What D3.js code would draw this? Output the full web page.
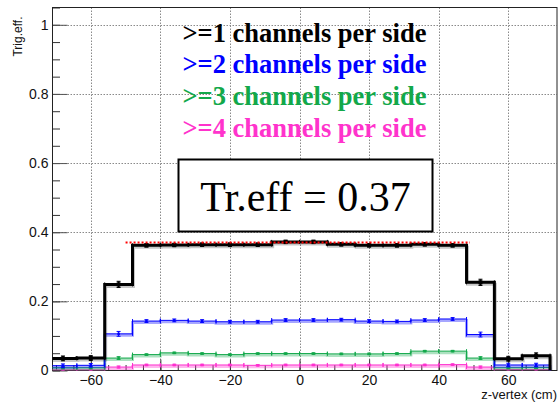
<!DOCTYPE html>
<html>
<head>
<meta charset="utf-8">
<script src="https://cdn.jsdelivr.net/npm/d3@7/dist/d3.min.js"></script>
<style>
  html, body { margin: 0; padding: 0; background: #fff; }
  svg { display: block; }
</style>
</head>
<body>
<svg id="chart" width="559" height="406"></svg>
<script>
// z-vertex bin centres (8 cm bins) and bin half width
const binCenters = [-68, -60, -52, -44, -36, -28, -20, -12, -4, 4, 12, 20, 28, 36, 44, 52, 60, 68];
const binHalfWidth = 4;

// trigger efficiency per bin for each multiplicity requirement
const eff1 = [0.035, 0.036, 0.249, 0.362, 0.363, 0.364, 0.364, 0.364, 0.372, 0.372, 0.365, 0.362, 0.362, 0.365, 0.362, 0.255, 0.034, 0.043];
const eff2 = [0.014, 0.015, 0.106, 0.143, 0.145, 0.143, 0.141, 0.141, 0.146, 0.146, 0.147, 0.143, 0.142, 0.146, 0.149, 0.104, 0.016, 0.016];
const eff3 = [0.008, 0.008, 0.036, 0.046, 0.051, 0.049, 0.046, 0.049, 0.049, 0.049, 0.048, 0.048, 0.049, 0.056, 0.056, 0.036, 0.008, 0.009];
const eff4 = [0.002, 0.002, 0.010, 0.016, 0.016, 0.016, 0.016, 0.015, 0.016, 0.016, 0.016, 0.016, 0.016, 0.016, 0.017, 0.010, 0.003, 0.003];

// statistical errors per bin
const err1 = [0.007, 0.007, 0.009, 0.005, 0.005, 0.005, 0.005, 0.005, 0.005, 0.005, 0.005, 0.005, 0.005, 0.005, 0.005, 0.009, 0.007, 0.008];
const err2 = [0.005, 0.005, 0.007, 0.004, 0.004, 0.004, 0.004, 0.004, 0.004, 0.004, 0.004, 0.004, 0.004, 0.004, 0.004, 0.007, 0.005, 0.005];
const err3 = [0.003, 0.003, 0.004, 0.002, 0.002, 0.002, 0.002, 0.002, 0.002, 0.002, 0.002, 0.002, 0.002, 0.002, 0.002, 0.004, 0.003, 0.003];
const err4 = [0.002, 0.002, 0.003, 0.002, 0.002, 0.002, 0.002, 0.002, 0.002, 0.002, 0.002, 0.002, 0.002, 0.002, 0.002, 0.003, 0.002, 0.002];

const seriesLabels = [">=1 channels per side", ">=2 channels per side", ">=3 channels per side", ">=4 channels per side"];
const seriesColors = ["#000000", "#0000ff", "#12a84a", "#ff2fcf"];
const legendColors = ["#000000", "#0000ff", "#12a84a", "#ff33cc"];

// constant fit over the plateau
const fitValue = 0.37;
const fitRange = [-50, 49];

const xTicks = [-60, -40, -20, 0, 20, 40, 60];
const yTicks = [0, 0.2, 0.4, 0.6, 0.8, 1];
const xTitle = "z-vertex (cm)";
const yTitle = "Trig.eff.";

const L = 52.5, R = 557, T = 7.5, B = 370.5;
const svg = d3.select("#chart");
const SANS = "'Liberation Sans', Arial, sans-serif";
const SERIF = "'Liberation Serif', 'Times New Roman', serif";

const x = d3.scaleLinear().domain([-71, 74]).range([L, R]);
const y = d3.scaleLinear().domain([0, 1.05]).range([B, T]);

svg.append("defs").append("clipPath").attr("id", "plotclip")
  .append("rect").attr("x", L).attr("y", T).attr("width", R - L).attr("height", B - T);

// grid
const grid = svg.append("g").attr("stroke", "#8a8a8a").attr("stroke-width", 1).attr("stroke-dasharray", "1.5,1.5");
xTicks.forEach(v => {
  grid.append("line").attr("x1", Math.round(x(v)) + 0.5).attr("x2", Math.round(x(v)) + 0.5).attr("y1", T).attr("y2", B);
});
yTicks.filter(v => v > 0).forEach(v => {
  grid.append("line").attr("y1", Math.round(y(v)) + 0.5).attr("y2", Math.round(y(v)) + 0.5).attr("x1", L).attr("x2", R);
});

// axes with inward ticks
const xMinor = d3.range(-70, 75, 5);
const yMinor = d3.range(0, 1.051, 0.05);
const axesG = svg.append("g");
axesG.append("g").attr("transform", `translate(0,${B})`)
  .call(d3.axisBottom(x).tickValues(xMinor).tickSize(-5.5).tickFormat(""))
  .call(g => g.select(".domain").remove())
  .call(g => g.selectAll("line").attr("stroke", "#333"));
axesG.append("g").attr("transform", `translate(0,${B})`)
  .call(d3.axisBottom(x).tickValues(xTicks).tickSize(-11).tickPadding(5)
    .tickFormat(d => d3.format("d")(d).replace("-", "\u2212")))
  .call(g => g.select(".domain").remove())
  .call(g => g.selectAll("line").attr("stroke", "#333"))
  .call(g => g.selectAll("text").attr("font-family", SANS).attr("font-size", 14).attr("fill", "#111"));

axesG.append("g").attr("transform", `translate(${L},0)`)
  .call(d3.axisLeft(y).tickValues(yMinor).tickSize(-7.5).tickFormat(""))
  .call(g => g.select(".domain").remove())
  .call(g => g.selectAll("line").attr("stroke", "#333"));
axesG.append("g").attr("transform", `translate(${L},0)`)
  .call(d3.axisLeft(y).tickValues(yTicks).tickSize(-15).tickPadding(4).tickFormat(d => d3.format("~g")(d)))
  .call(g => g.select(".domain").remove())
  .call(g => g.selectAll("line").attr("stroke", "#555"))
  .call(g => g.selectAll("text").attr("font-family", SANS).attr("font-size", 14).attr("fill", "#111"));

// frame
svg.append("rect").attr("x", L).attr("y", T).attr("width", R - L).attr("height", B - T)
  .attr("fill", "none").attr("stroke", "#222").attr("stroke-width", 1);

// histograms
const plot = svg.append("g").attr("clip-path", "url(#plotclip)");
const series = [
  { vals: eff1, errs: err1 },
  { vals: eff2, errs: err2 },
  { vals: eff3, errs: err3 },
  { vals: eff4, errs: err4 }
];

function stepPoints(vals) {
  const pts = [[binCenters[0] - binHalfWidth, 0]];
  vals.forEach((v, i) => {
    pts.push([binCenters[i] - binHalfWidth, v]);
    pts.push([binCenters[i] + binHalfWidth, v]);
  });
  pts.push([binCenters[binCenters.length - 1] + binHalfWidth, 0]);
  return pts;
}
const stepLine = d3.line().x(d => x(d[0])).y(d => y(d[1]));

// draw from highest multiplicity to lowest so black sits on top
for (let s = 3; s >= 0; s--) {
  const col = seriesColors[s];
  const { vals, errs } = series[s];
  const g = plot.append("g");
  const pts = stepPoints(vals);
  if (s === 0) {
    g.append("path").attr("d", stepLine(pts)).attr("fill", "none")
      .attr("stroke", "#000").attr("stroke-opacity", 0.22).attr("stroke-width", 3)
      .attr("transform", "translate(1,2)");
    g.append("path").attr("d", stepLine(pts)).attr("fill", "none")
      .attr("stroke", "#000").attr("stroke-width", 3).attr("stroke-linejoin", "miter");
  } else {
    g.append("path").attr("d", stepLine(pts)).attr("fill", "none")
      .attr("stroke", col).attr("stroke-opacity", 0.35).attr("stroke-width", 3)
      .attr("transform", "translate(0,1.5)");
    g.append("path").attr("d", stepLine(pts)).attr("fill", "none")
      .attr("stroke", col).attr("stroke-width", 1);
  }
  // error bars, bin-edge caps and markers
  vals.forEach((v, i) => {
    const cx = x(binCenters[i]);
    const cy = y(v);
    const e = errs[i];
    g.append("line").attr("x1", cx).attr("x2", cx).attr("y1", y(v - e)).attr("y2", y(v + e))
      .attr("stroke", col).attr("stroke-width", s === 0 ? 2 : 1);
    [v - e, v + e].forEach(ev => {
      g.append("line").attr("x1", cx - 2).attr("x2", cx + 2).attr("y1", y(ev)).attr("y2", y(ev))
        .attr("stroke", col).attr("stroke-width", 1);
    });
    [binCenters[i] - binHalfWidth, binCenters[i] + binHalfWidth].forEach(ex => {
      g.append("line").attr("x1", x(ex)).attr("x2", x(ex)).attr("y1", cy - 2).attr("y2", cy + 2)
        .attr("stroke", col).attr("stroke-width", 1);
    });
    const m = s === 0 ? 4 : 2.5;
    g.append("rect").attr("x", cx - m / 2).attr("y", cy - m / 2).attr("width", m).attr("height", m).attr("fill", col);
  });
}

// fit line
plot.append("line").attr("x1", x(fitRange[0])).attr("x2", x(fitRange[1]))
  .attr("y1", y(fitValue)).attr("y2", y(fitValue))
  .attr("stroke", "#ff0000").attr("stroke-width", 2).attr("stroke-dasharray", "2,2");

// axis titles
svg.append("text").attr("x", R).attr("y", 399).attr("text-anchor", "end")
  .attr("font-family", SANS).attr("font-size", 13).attr("fill", "#111")
  .text(xTitle);
svg.append("text").attr("transform", "translate(21.5,16.5) rotate(-90)").attr("text-anchor", "end")
  .attr("font-family", SANS).attr("font-size", 12).attr("fill", "#111")
  .text(yTitle);

// legend: bold serif lines, sized to a common width
const legendBaselines = [41.7, 73.3, 105, 136.5];
const legendWidth = 244;
seriesLabels.forEach((t, i) => {
  const txt = svg.append("text").attr("x", 182.5).attr("y", legendBaselines[i])
    .attr("font-family", SERIF).attr("font-weight", "bold")
    .attr("font-size", 23).attr("fill", legendColors[i])
    .text(t);
  const w = txt.node().getComputedTextLength();
  if (w > 0) txt.attr("font-size", 23 * legendWidth / w);
});

// fitted efficiency box
svg.append("rect").attr("x", 178.5).attr("y", 159.5).attr("width", 254).attr("height", 72)
  .attr("fill", "#fff").attr("stroke", "#000").attr("stroke-width", 2);
svg.append("text").attr("x", 305.5).attr("y", 210.5).attr("text-anchor", "middle")
  .attr("font-family", SERIF).attr("font-size", 42).attr("fill", "#000")
  .text("Tr.eff = " + d3.format(".2f")(fitValue));
</script>
</body>
</html>
